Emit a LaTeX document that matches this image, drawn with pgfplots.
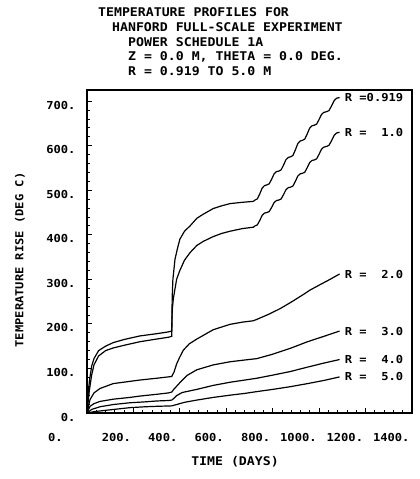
\documentclass[border=0pt]{standalone}
\usepackage{pgfplots}
\pgfplotsset{compat=1.18}
\usepackage{fontspec}
\setmainfont{DejaVu Sans Mono}[FakeStretch=1.1]
\newcommand{\pf}{\fontsize{11}{13}\selectfont\bfseries}
\newcommand{\tf}{\fontsize{12}{14}\selectfont\bfseries}

\pgfplotstableread{
t y
0 0
5 40
10 70
20 105
30 122
50 140
80 150
113 158
160 165
228 173
300 178
350 182
365 184
367 260
370 300
379 345
390 370
400 390
420 408
444 420
473 437
500 446
544 459
580 465
616 470
670 473
716 475
724 478
734 480.7
744 491.6
755 505.2
765 510.6
775 512
785 514.5
795 524.4
806 536.8
816 541.8
826 543
836 545.6
846 555.8
857 568.6
867 573.7
877 575
887 578
897 589.8
908 604.6
918 610.5
928 612
938 614.7
948 625.6
959 639.2
969 644.6
979 646
989 648.4
999 658
1010 670
1020 674.8
1030 676
1042 678.6
1053 688.8
1065 701.6
1076 706.7
1088 708
}\rA

\pgfplotstableread{
t y
0 0
5 25
10 50
20 85
30 108
50 128
80 140
113 146
160 152
228 160
300 166
350 170
365 172
367 230
372 257
386 300
400 320
420 343
444 360
473 376
500 385
544 396
580 403
616 408
670 414
716 417
724 420
734 422.4
744 432
755 444
765 448.8
775 450
785 452.2
795 461.2
806 472.4
816 476.9
826 478
836 480.3
846 489.6
857 501.2
867 505.8
877 507
887 509.5
897 519.4
908 531.8
918 536.8
928 538
938 540.4
948 550
959 562
969 566.8
979 568
989 570.4
999 580
1010 592
1020 596.8
1030 598
1042 600.6
1053 610.8
1065 623.6
1076 628.7
1088 630
}\rB

\pgfplotstableread{
t y
0 0
5 12
13 30
30 45
56 55
113 66
170 70
228 74
300 78
350 81
365 82
375 92
386 110
400 126
415 141
440 155
473 166
544 187
616 199
670 204
716 207
731 210
780 221
831 234
880 249
932 266
961 276
1000 287
1047 300
1088 312
}\rC

\pgfplotstableread{
t y
0 0
13 15
30 21
56 26
113 31
185 35
228 38
300 42
350 45
365 47
375 54
386 60
400 68
430 84
473 97
544 108
616 115
680 119
731 122
800 132
875 145
950 160
1020 172
1088 184
}\rD

\pgfplotstableread{
t y
0 0
20 8
56 14
113 19
185 23
250 25
300 27
350 28
365 29
375 33
386 39
410 46
473 53
544 62
616 69
680 74
731 78
800 85
875 93
950 103
1020 112
1088 120
}\rE

\pgfplotstableread{
t y
0 0
30 3
80 6
150 10
185 12
250 14
300 15
365 16
386 19
420 24
473 29
544 35
616 40
680 44
731 48
800 53
875 59
950 66
1020 73
1088 81
}\rF

\begin{document}
\begin{tikzpicture}[x=1pt,y=1pt]
\path[use as bounding box] (-87,-66) rectangle (333,413);
\begin{axis}[
  at={(0,0)}, anchor=south west,
  scale only axis, width=325pt, height=323pt,
  xmin=0, xmax=1400, ymin=0, ymax=725,
  xtick={0,200,...,1400},
  xticklabels={0.\hphantom{000},200.,400.,600.,800.,1000.,1200.,1400.},
  ytick={0,100,...,700},
  yticklabels={0.,100.,200.,300.,400.,500.,600.,700.},
  minor x tick num=4, minor y tick num=4,
  tick align=inside, xtick pos=bottom, ytick pos=left,
  major tick length=5pt, minor tick length=3pt,
  tick style={black, line width=0.9pt},
  axis line style={line width=1.3pt},
  xticklabel style={font=\pf, anchor=north east, xshift=1pt, yshift=-17pt},
  yticklabel style={font=\pf, anchor=east, xshift=-8pt, yshift=-4pt},
  clip=false,
]
\addplot[black, no markers, line width=1.2pt] table[x=t,y=y] {\rA};
\addplot[black, no markers, line width=1.2pt] table[x=t,y=y] {\rB};
\addplot[black, no markers, line width=1.2pt] table[x=t,y=y] {\rC};
\addplot[black, no markers, line width=1.2pt] table[x=t,y=y] {\rD};
\addplot[black, no markers, line width=1.2pt] table[x=t,y=y] {\rE};
\addplot[black, no markers, line width=1.2pt] table[x=t,y=y] {\rF};
\node[anchor=west, font=\pf, inner sep=0] at (axis cs:1110,708) {R =0.919};
\node[anchor=west, font=\pf, inner sep=0] at (axis cs:1110,630) {R =\hphantom{00}1.0};
\node[anchor=west, font=\pf, inner sep=0] at (axis cs:1110,312) {R =\hphantom{00}2.0};
\node[anchor=west, font=\pf, inner sep=0] at (axis cs:1110,184) {R =\hphantom{00}3.0};
\node[anchor=west, font=\pf, inner sep=0] at (axis cs:1110,120) {R =\hphantom{00}4.0};
\node[anchor=west, font=\pf, inner sep=0] at (axis cs:1110,81) {R =\hphantom{00}5.0};
\end{axis}
\node[anchor=base west, font=\tf, inner sep=0] at (11,396) {TEMPERATURE PROFILES FOR};
\node[anchor=base west, font=\tf, inner sep=0] at (25,381) {HANFORD FULL-SCALE EXPERIMENT};
\node[anchor=base west, font=\tf, inner sep=0] at (41,366) {POWER SCHEDULE 1A};
\node[anchor=base west, font=\tf, inner sep=0] at (41,352) {Z = 0.0 M, THETA = 0.0 DEG.};
\node[anchor=base west, font=\tf, inner sep=0] at (41,337) {R = 0.919 TO 5.0 M};
\node[font=\tf, inner sep=0] at (148,-49) {TIME (DAYS)};
\node[font=\pf, inner sep=0, rotate=90] at (-67,153) {TEMPERATURE RISE (DEG C)};
\end{tikzpicture}
\end{document}
